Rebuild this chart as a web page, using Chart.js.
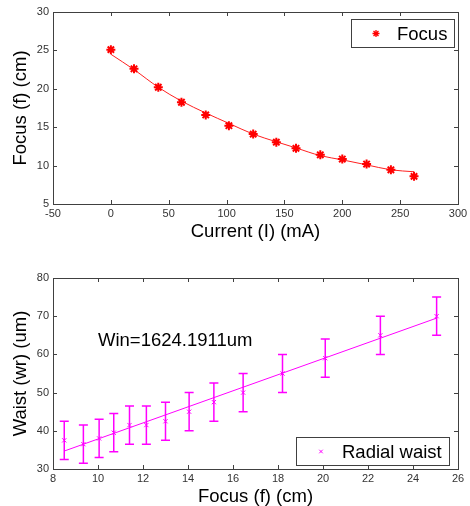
<!DOCTYPE html>
<html>
<head>
<meta charset="utf-8">
<script src="https://cdn.jsdelivr.net/npm/chart.js@4.4.0/dist/chart.umd.min.js"></script>
<style>
  body { margin: 0; background: #fff; }
  canvas { position: absolute; left: 0; }
  #topChart { top: 0; }
  #bottomChart { top: 250px; }
</style>
</head>
<body>
<canvas id="topChart" width="470" height="250"></canvas>
<canvas id="bottomChart" width="470" height="256"></canvas>
<script>
'use strict';

// top plot: focus vs lens current
let currentMA = [0, 20, 41, 61, 82, 102, 123, 143, 160, 181, 200, 221, 242, 262];
let focusCm = [25.1, 22.6, 20.2, 18.25, 16.6, 15.2, 14.1, 13.05, 12.25, 11.4, 10.85, 10.2, 9.45, 8.6];
let focusFit = [24.5, 22.5, 20.2, 18.4, 16.85, 15.5, 14.1, 13.1, 12.3, 11.3, 10.75, 10.1, 9.45, 9.2];

// bottom plot: radial waist vs focus
let focusPos = [8.5, 9.35, 10.05, 10.7, 11.4, 12.15, 13.0, 14.05, 15.15, 16.45, 18.2, 20.1, 22.55, 25.05];
let waistUm = [37.5, 36.5, 38, 39.5, 41.5, 41.5, 42.5, 45, 47.5, 50, 55, 59, 65, 70];
let waistErr = [5, 5, 5, 5, 5, 5, 5, 5, 5, 5, 5, 5, 5, 5];
let waistFitX = [8.5, 25.05];
let waistFitY = [34.7, 69.5];

let topXTicks = [-50, 300, 50];   // min, max, step
let topYTicks = [5, 30, 5];
let botXTicks = [8, 26, 2];
let botYTicks = [30, 80, 10];

let winText = 'Win=1624.1911um';
let winPos = [10, 63.5];

let fontFamily = '"Liberation Sans", Arial, sans-serif';
let tickColor = '#333';
let boxColor = '#404040';

function toPoints(xs, ys) {
  return xs.map((x, i) => ({ x: x, y: ys[i] }));
}

function drawMarker(ctx, style, x, y, r, color, width) {
  ctx.save();
  ctx.strokeStyle = color;
  ctx.lineWidth = width;
  ctx.beginPath();
  if (style === 'star') {
    ctx.moveTo(x - r, y); ctx.lineTo(x + r, y);
    ctx.moveTo(x, y - r); ctx.lineTo(x, y + r);
  }
  let d = r * 0.7071;
  ctx.moveTo(x - d, y - d); ctx.lineTo(x + d, y + d);
  ctx.moveTo(x - d, y + d); ctx.lineTo(x + d, y - d);
  ctx.stroke();
  ctx.restore();
}

// box around the axes with inward ticks, like matlab
let boxPlugin = {
  id: 'matlabBox',
  beforeDatasetsDraw(chart) {
    let ctx = chart.ctx;
    let a = chart.chartArea;
    let xs = chart.scales.x;
    let ys = chart.scales.y;
    ctx.save();
    ctx.strokeStyle = boxColor;
    ctx.lineWidth = 1;
    ctx.strokeRect(Math.round(a.left) + 0.5, Math.round(a.top) + 0.5,
      Math.round(a.right - a.left), Math.round(a.bottom - a.top));
    ctx.beginPath();
    xs.ticks.forEach(t => {
      let px = Math.round(xs.getPixelForValue(t.value)) + 0.5;
      ctx.moveTo(px, a.bottom); ctx.lineTo(px, a.bottom - 4);
      ctx.moveTo(px, a.top); ctx.lineTo(px, a.top + 4);
    });
    ys.ticks.forEach(t => {
      let py = Math.round(ys.getPixelForValue(t.value)) + 0.5;
      ctx.moveTo(a.left, py); ctx.lineTo(a.left + 4, py);
      ctx.moveTo(a.right, py); ctx.lineTo(a.right - 4, py);
    });
    ctx.stroke();
    ctx.restore();
  }
};

// boxed legend inside the plot
let legendPlugin = {
  id: 'boxLegend',
  afterDraw(chart, args, opts) {
    if (!opts.text) return;
    let ctx = chart.ctx;
    let a = chart.chartArea;
    let left = a.right - opts.right - opts.width;
    let top = opts.top !== undefined ? a.top + opts.top : a.bottom - opts.bottom - opts.height;
    ctx.save();
    ctx.fillStyle = '#fff';
    ctx.fillRect(left, top, opts.width, opts.height);
    ctx.strokeStyle = boxColor;
    ctx.lineWidth = 1;
    ctx.strokeRect(Math.round(left) + 0.5, Math.round(top) + 0.5, opts.width, opts.height);
    let cy = top + opts.height / 2 + 0.5;
    drawMarker(ctx, opts.marker, left + 25, cy, opts.markerSize, opts.color, opts.markerWidth);
    ctx.fillStyle = '#000';
    ctx.font = '18.5px ' + fontFamily;
    ctx.textAlign = 'left';
    ctx.textBaseline = 'middle';
    ctx.fillText(opts.text, left + 46, cy + 1);
    ctx.restore();
  }
};

function axisOptions(ticks, title, isX, titlePadding, size) {
  return {
    type: 'linear',
    min: ticks[0],
    max: ticks[1],
    ticks: {
      stepSize: ticks[2],
      autoSkip: false,
      maxRotation: 0,
      color: tickColor,
      font: { family: fontFamily, size: 11 },
      padding: isX ? 3 : 4
    },
    grid: { display: false, drawTicks: false },
    border: { display: false },
    title: {
      display: true,
      text: title,
      color: '#000',
      padding: titlePadding,
      font: { family: fontFamily, size: 18.5 }
    },
    // fixed axis box so the plot area lands where the original has it
    afterFit(axis) {
      if (isX) {
        axis.height = size;
        axis.paddingLeft = 0;
        axis.paddingRight = 0;
      } else {
        axis.width = size;
        axis.paddingTop = 0;
        axis.paddingBottom = 0;
      }
    }
  };
}

// ----- top chart -----
let topCtx = document.getElementById('topChart');
new Chart(topCtx, {
  type: 'scatter',
  data: {
    datasets: [
      {
        label: 'Focus',
        data: toPoints(currentMA, focusCm),
        showLine: false,
        pointStyle: 'star',
        pointRadius: 4.5,
        pointBorderWidth: 2,
        borderColor: '#ff0000',
        backgroundColor: '#ff0000'
      },
      {
        label: 'fit',
        data: toPoints(currentMA, focusFit),
        showLine: true,
        pointRadius: 0,
        borderWidth: 1,
        borderColor: '#ff2020',
        cubicInterpolationMode: 'monotone'
      }
    ]
  },
  options: {
    responsive: false,
    animation: false,
    devicePixelRatio: 1,
    layout: { padding: { left: 0, right: 12, top: 12, bottom: 0 } },
    scales: {
      x: axisOptions(topXTicks, 'Current (I) (mA)', true, { top: 0, bottom: 7 }, 46),
      y: axisOptions(topYTicks, 'Focus (f) (cm)', false, { top: 10, bottom: 0 }, 53)
    },
    plugins: {
      legend: { display: false },
      tooltip: { enabled: false },
      boxLegend: {
        text: 'Focus', marker: 'star', markerSize: 3.5, markerWidth: 1.3, color: '#ff0000',
        right: 4, top: 7, width: 103, height: 28
      }
    }
  },
  plugins: [boxPlugin, legendPlugin]
});

// ----- bottom chart -----
let errorBarPlugin = {
  id: 'errorBars',
  afterDatasetsDraw(chart) {
    let ctx = chart.ctx;
    let xs = chart.scales.x;
    let ys = chart.scales.y;
    ctx.save();
    ctx.strokeStyle = '#ff00ff';
    ctx.lineWidth = 1.5;
    ctx.beginPath();
    for (let i = 0; i < focusPos.length; i++) {
      let px = xs.getPixelForValue(focusPos[i]);
      let lo = ys.getPixelForValue(waistUm[i] - waistErr[i]);
      let hi = ys.getPixelForValue(waistUm[i] + waistErr[i]);
      ctx.moveTo(px, lo); ctx.lineTo(px, hi);
      ctx.moveTo(px - 4.5, lo); ctx.lineTo(px + 4.5, lo);
      ctx.moveTo(px - 4.5, hi); ctx.lineTo(px + 4.5, hi);
    }
    ctx.stroke();
    // annotation text
    ctx.fillStyle = '#000';
    ctx.font = '18.5px ' + fontFamily;
    ctx.textAlign = 'left';
    ctx.textBaseline = 'middle';
    ctx.fillText(winText, xs.getPixelForValue(winPos[0]), ys.getPixelForValue(winPos[1]));
    ctx.restore();
  }
};

let botCtx = document.getElementById('bottomChart');
new Chart(botCtx, {
  type: 'scatter',
  data: {
    datasets: [
      {
        label: 'Radial waist',
        data: toPoints(focusPos, waistUm),
        showLine: false,
        pointStyle: 'crossRot',
        pointRadius: 3,
        pointBorderWidth: 1,
        borderColor: '#ff00ff',
        backgroundColor: '#ff00ff'
      },
      {
        label: 'fit',
        data: toPoints(waistFitX, waistFitY),
        showLine: true,
        pointRadius: 0,
        borderWidth: 1,
        borderColor: '#ff00ff'
      }
    ]
  },
  options: {
    responsive: false,
    animation: false,
    devicePixelRatio: 1,
    layout: { padding: { left: 0, right: 12, top: 28, bottom: 0 } },
    scales: {
      x: axisOptions(botXTicks, 'Focus (f) (cm)', true, { top: 0, bottom: -2 }, 37),
      y: axisOptions(botYTicks, 'Waist (wr) (um)', false, { top: 10, bottom: 0 }, 53)
    },
    plugins: {
      legend: { display: false },
      tooltip: { enabled: false },
      boxLegend: {
        text: 'Radial waist', marker: 'x', markerSize: 2.5, markerWidth: 1, color: '#ff00ff',
        right: 9, bottom: 4, width: 153, height: 28
      }
    }
  },
  plugins: [boxPlugin, errorBarPlugin, legendPlugin]
});
</script>
</body>
</html>
